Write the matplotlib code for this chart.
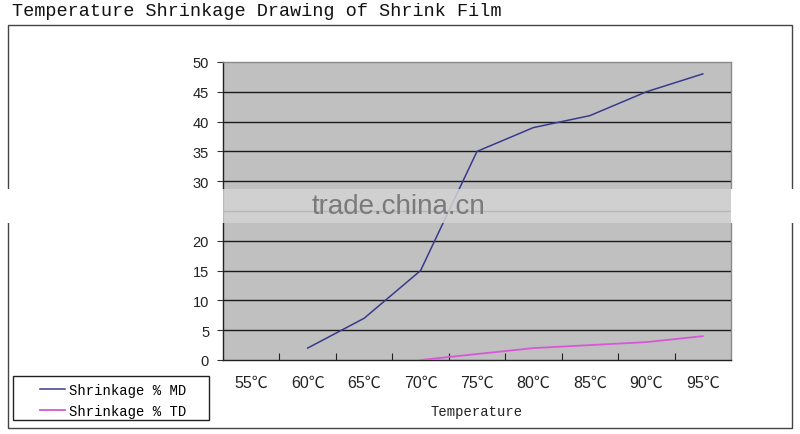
import matplotlib
matplotlib.use("Agg")
import matplotlib.pyplot as plt
from matplotlib.patches import Rectangle

categories = ["55℃", "60℃", "65℃", "70℃", "75℃", "80℃", "85℃", "90℃", "95℃"]
md_values = [None, 2, 7, 15, 35, 39, 41, 45, 48]
td_values = [None, None, None, 0, 1, 2, 2.5, 3, 4]
y_ticks = [0, 5, 10, 15, 20, 25, 30, 35, 40, 45, 50]

W, H = 800, 435
fig = plt.figure(figsize=(W / 100, H / 100), dpi=100)
fig.patch.set_facecolor("white")

ax = fig.add_axes([223 / W, 1 - 361 / H, 508 / W, 298 / H])
ax.set_facecolor("#c0c0c0")

xs = list(range(len(categories)))
md_x = [x for x, v in zip(xs, md_values) if v is not None]
md_y = [v for v in md_values if v is not None]
td_x = [x for x, v in zip(xs, td_values) if v is not None]
td_y = [v for v in td_values if v is not None]

for yv in y_ticks[1:-1]:
    ax.axhline(yv, color="#1a1a1a", lw=1.0, zorder=1)

ax.plot(md_x, md_y, color="#3a3a8c", lw=1.1, zorder=3, label="Shrinkage % MD")
ax.plot(td_x, td_y, color="#d857d8", lw=1.3, zorder=3, label="Shrinkage % TD")

ax.set_xlim(-0.5, len(categories) - 0.5)
ax.set_ylim(0, 50)

ax.set_yticks(y_ticks)
ax.set_yticklabels([str(v) for v in y_ticks], fontsize=10.5,
                   family=["Liberation Sans", "DejaVu Sans"], color="#222222")
ax.tick_params(axis="y", direction="out", length=4, width=0.8, pad=6, color="#333333")

ax.set_xticks(xs)
ax.set_xticklabels(categories, fontsize=11.5,
                   family=["Liberation Sans", "Noto Sans CJK SC", "DejaVu Sans"], color="#222222")
ax.tick_params(axis="x", which="major", length=0, pad=11)
ax.set_xticks([x + 0.5 for x in xs[:-1]], minor=True)
ax.tick_params(axis="x", which="minor", direction="in", length=5, width=0.8, color="#222222")

ax.set_xlabel("Temperature", fontsize=10, family=["Liberation Mono", "DejaVu Sans Mono"],
              color="#222222", labelpad=10)

for side in ["left", "bottom"]:
    ax.spines[side].set_color("#222222")
    ax.spines[side].set_linewidth(1.0)
for side in ["top", "right"]:
    ax.spines[side].set_color("#8a8a8a")
    ax.spines[side].set_linewidth(1.0)

# outer frame
fig.patches.append(Rectangle((8 / W, 1 - 429 / H), 784 / W, 403 / H, transform=fig.transFigure,
                             fill=False, edgecolor="#444444", lw=1.0, zorder=0))

fig.text(12 / W, 1 - 12 / H, "Temperature Shrinkage Drawing of Shrink Film",
         fontsize=13.3, family=["Liberation Mono", "DejaVu Sans Mono"],
         va="center", ha="left", color="#111111")

# legend box
fig.patches.append(Rectangle((13 / W, 1 - 421 / H), 196 / W, 44 / H, transform=fig.transFigure,
                             facecolor="white", edgecolor="#222222", lw=1.0, zorder=4))
leg = fig.legend(loc="center left", bbox_to_anchor=(40 / W, 1 - 401.5 / H),
                 bbox_transform=fig.transFigure, frameon=False,
                 prop={"family": ["Liberation Mono", "DejaVu Sans Mono"], "size": 10},
                 handlelength=1.8, handletextpad=0.3, labelspacing=0.55, borderpad=0.0,
                 borderaxespad=0)
leg.set_zorder(5)

# watermark band
fig.patches.append(Rectangle((0, 1 - 224 / H), 223 / W, 34 / H, transform=fig.transFigure,
                             facecolor="white", edgecolor="none", zorder=10))
fig.patches.append(Rectangle((731 / W, 1 - 224 / H), 69 / W, 34 / H, transform=fig.transFigure,
                             facecolor="white", edgecolor="none", zorder=10))
fig.patches.append(Rectangle((223 / W, 1 - 224 / H), 508 / W, 34 / H, transform=fig.transFigure,
                             facecolor="#d4d4d4", alpha=0.85, edgecolor="none", zorder=10))
fig.text(398 / W, 1 - 207 / H, "trade.china.cn", fontsize=20,
         family=["Liberation Sans Narrow", "Liberation Sans", "DejaVu Sans"],
         color="#7a7a7a", ha="center", va="center", zorder=11)

fig.savefig("out.png", dpi=100)
